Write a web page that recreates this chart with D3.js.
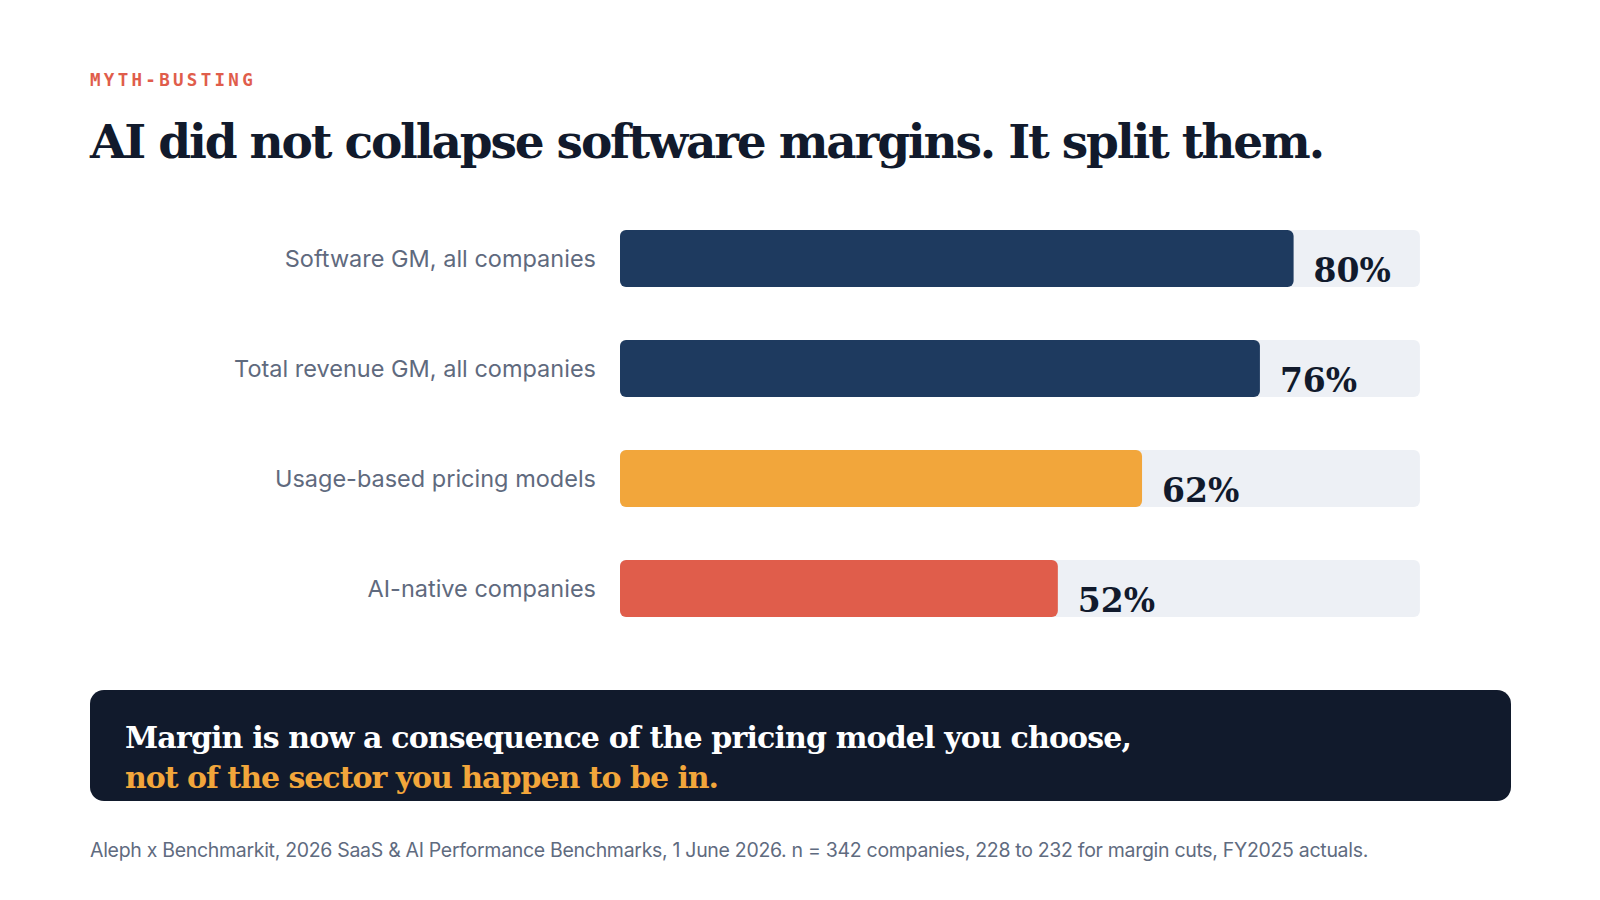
<!DOCTYPE html><html><head><meta charset="utf-8"><script src="https://cdn.jsdelivr.net/npm/d3@7"></script>
<style>body{margin:0;background:#fff}svg{display:block}</style></head><body><svg id="c" width="1600" height="900"></svg>
<script>
const categories=["Software GM, all companies","Total revenue GM, all companies","Usage-based pricing models","AI-native companies"];
const values=[80,76,62,52];
const colors=["#1e3a5f","#1e3a5f","#f2a63b","#e05d4b"];
const svg=d3.select("#c");
const serif="'DejaVu Serif',serif";
svg.append("text").attr("x",90).attr("y",86).text("MYTH-BUSTING").attr("font-family","'DejaVu Sans Mono',monospace").attr("font-weight","bold").attr("font-size",17.5).attr("letter-spacing",3.3).attr("fill","#e05d4b");
svg.append("text").attr("x",90).attr("y",158).text("AI did not collapse software margins. It split them.").attr("font-family",serif).attr("font-weight","bold").attr("font-size",47).attr("fill","#111a2c").attr("textLength",1235);
const x=d3.scaleLinear().domain([0,100]).range([620,1462]);
const y=d3.scaleBand().domain(categories).range([230,617]).paddingInner(53/110).paddingOuter(0);
const g=svg.append("g");
categories.forEach((c,i)=>{
  const yy=y(c),h=y.bandwidth();
  g.append("rect").attr("x",x(0)).attr("y",yy).attr("width",x(95)-x(0)).attr("height",h).attr("rx",6).attr("fill","#edf0f5");
  g.append("rect").attr("x",x(0)).attr("y",yy).attr("width",x(values[i])-x(0)).attr("height",h).attr("rx",6).attr("fill",colors[i]);
  g.append("text").attr("x",x(values[i])+20).attr("y",yy+h-5).text(values[i]+"%").attr("font-family",serif).attr("font-weight","bold").attr("font-size",33).attr("fill","#111a2c");
  g.append("text").attr("x",596).attr("y",yy+h/2+8).attr("text-anchor","end").text(c).attr("font-family","Inter,sans-serif").attr("font-size",23.5).attr("fill","#5f6a7e");
});
svg.append("rect").attr("x",90).attr("y",690).attr("width",1421).attr("height",111).attr("rx",14).attr("fill","#111a2c");
svg.append("text").attr("x",125).attr("y",748).text("Margin is now a consequence of the pricing model you choose,").attr("font-family",serif).attr("font-weight","bold").attr("font-size",30).attr("fill","#fff").attr("textLength",1007);
svg.append("text").attr("x",125).attr("y",788).text("not of the sector you happen to be in.").attr("font-family",serif).attr("font-weight","bold").attr("font-size",30).attr("fill","#f2a63b").attr("textLength",594);
svg.append("text").attr("x",90).attr("y",857).text("Aleph x Benchmarkit, 2026 SaaS & AI Performance Benchmarks, 1 June 2026. n = 342 companies, 228 to 232 for margin cuts, FY2025 actuals.").attr("font-family","Inter,sans-serif").attr("font-size",19.5).attr("fill","#5f6b7f").attr("textLength",1278).attr("letter-spacing",-0.3);
</script></body></html>
